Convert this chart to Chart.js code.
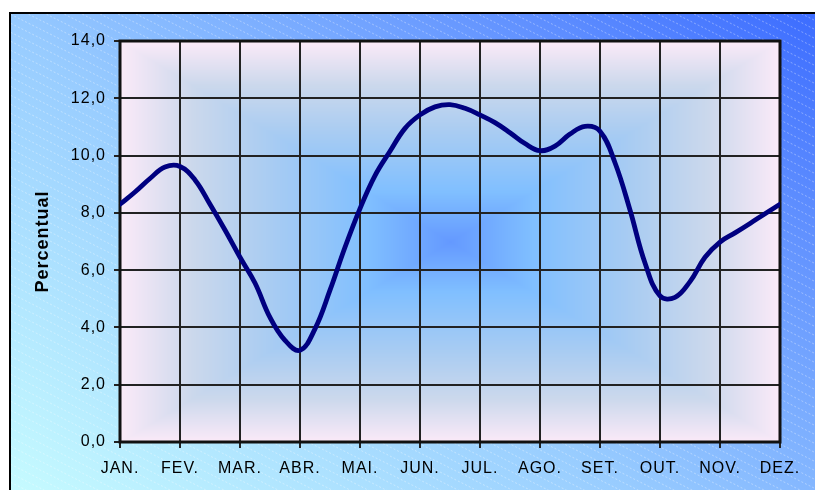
<!DOCTYPE html>
<html><head><meta charset="utf-8">
<script src="https://cdn.jsdelivr.net/npm/chart.js@4.4.1/dist/chart.umd.min.js"></script>
<style>html,body{margin:0;padding:0;background:#fff;overflow:hidden}</style>
</head><body>
<canvas id="c" width="815" height="490"></canvas>
<script>
// ---- data ----
const months = ['JAN.','FEV.','MAR.','ABR.','MAI.','JUN.','JUL.','AGO.','SET.','OUT.','NOV.','DEZ.'];
const yTickValues = [0,2,4,6,8,10,12,14];
// sample positions, in months from JAN. (quarter-month steps)
const positions = [0,0.25,0.5,0.75,1,1.25,1.5,1.75,2,2.25,2.5,2.75,3,3.25,3.5,3.75,4,4.25,4.5,4.75,5,5.25,5.5,5.75,6,6.25,6.5,6.75,7,7.25,7.5,7.75,8,8.25,8.5,8.75,9,9.25,9.5,9.75,10,10.25,10.5,10.75,11];
const percentual = [8.3,8.73,9.2,9.6,9.62,9.15,8.3,7.4,6.45,5.55,4.35,3.55,3.2,3.95,5.3,6.8,8.15,9.3,10.15,10.95,11.42,11.7,11.78,11.65,11.42,11.15,10.8,10.42,10.17,10.33,10.75,11.02,10.85,9.75,8.1,6.25,5.1,5.05,5.6,6.45,6.98,7.3,7.63,7.97,8.3];

function hex(c){return [parseInt(c.slice(1,3),16),parseInt(c.slice(3,5),16),parseInt(c.slice(5,7),16)];}
const plotStops = [[0,'#6499ff'],[0.25,'#80bfff'],[0.55,'#a9ccf2'],[0.78,'#cbd8ec'],[1,'#fbeaf8']].map(s=>[s[0],hex(s[1])]);
function stopColor(t){
  for(let i=1;i<plotStops.length;i++){
    if(t<=plotStops[i][0]){
      const a=plotStops[i-1],b=plotStops[i];const f=(t-a[0])/(b[0]-a[0]);
      return [0,1,2].map(k=>Math.round(a[1][k]+(b[1][k]-a[1][k])*f));
    }
  }
  return plotStops[plotStops.length-1][1];
}

const bgPlugin = {
  id:'bg',
  beforeDraw(chart){
    const ctx=chart.ctx, W=chart.width, H=chart.height, ca=chart.chartArea;
    ctx.save();
    ctx.fillStyle='#fff';ctx.fillRect(0,0,W,H);
    // outer chart box
    const g=ctx.createLinearGradient(10,H,560,-250);
    g.addColorStop(0,'#c6fbff');g.addColorStop(0.4,'#98ccff');g.addColorStop(0.75,'#5f8fff');g.addColorStop(1,'#3060ff');
    ctx.fillStyle=g;ctx.fillRect(10,13,W,H);
    // faint hatch
    ctx.beginPath();ctx.rect(10,13,W,H);ctx.clip();
    ctx.strokeStyle='rgba(255,255,255,0.35)';ctx.lineWidth=1;ctx.setLineDash([2,2]);
    for(let c=-900;c<H+10;c+=9){ctx.beginPath();ctx.moveTo(0,c);ctx.lineTo(W,c+W*0.5);ctx.stroke();}
    ctx.restore();
    ctx.save();
    ctx.strokeStyle='#000';ctx.lineWidth=2;ctx.strokeRect(10,13,W+10,H+10);
    // plot area rectangular gradient
    const x0=Math.round(ca.left),y0=Math.round(ca.top),w=Math.round(ca.right-ca.left),h=Math.round(ca.bottom-ca.top);
    const off=document.createElement('canvas');off.width=w;off.height=h;
    const octx=off.getContext('2d');const img=octx.createImageData(w,h);
    const cx=w/2,cy=h/2;
    for(let y=0;y<h;y++){for(let x=0;x<w;x++){
      const t=Math.min(1,Math.max(Math.abs(x-cx)/cx,Math.abs(y-cy)/cy));
      const col=stopColor(t);const i=(y*w+x)*4;
      img.data[i]=col[0];img.data[i+1]=col[1];img.data[i+2]=col[2];img.data[i+3]=255;
    }}
    octx.putImageData(img,0,0);
    ctx.drawImage(off,x0,y0);
    ctx.restore();
    ctx.letterSpacing='1px';
  },
  beforeDatasetsDraw(chart){
    const ctx=chart.ctx, ca=chart.chartArea;
    ctx.save();ctx.strokeStyle='#111';ctx.lineWidth=3;
    ctx.strokeRect(ca.left,ca.top,ca.right-ca.left,ca.bottom-ca.top);
    ctx.restore();
  }
};

const font = 'Liberation Sans, Arial, sans-serif';
new Chart(document.getElementById('c'),{
  type:'line',
  data:{datasets:[{
    data: positions.map((x,i)=>({x:x,y:percentual[i]})),
    borderColor:'#000080',borderWidth:4.8,pointRadius:0,tension:0.4,fill:false,
    borderCapStyle:'round',borderJoinStyle:'round'
  }]},
  options:{
    responsive:false,animation:false,devicePixelRatio:1,
    layout:{padding:{left:0,top:41,right:35,bottom:0}},
    plugins:{legend:{display:false},tooltip:{enabled:false}},
    scales:{
      x:{type:'linear',min:0,max:11,
        afterBuildTicks:s=>{s.ticks=months.map((m,i)=>({value:i}));},
        ticks:{callback:(v)=>months[v],color:'#000',font:{family:font,size:16},padding:11,maxRotation:0,autoSkip:false},
        grid:{color:'#222',lineWidth:2,tickLength:6,drawTicks:true},
        border:{color:'#111',width:2},
        afterFit:s=>{s.height=48;}
      },
      y:{min:0,max:14,
        afterBuildTicks:s=>{s.ticks=yTickValues.map(v=>({value:v}));},
        ticks:{callback:v=>v.toFixed(1).replace('.',','),color:'#000',font:{family:font,size:16},padding:8},
        grid:{color:'#222',lineWidth:2,tickLength:6,drawTicks:true},
        border:{color:'#111',width:2},
        title:{display:true,text:'Percentual',color:'#000',font:{family:font,size:18,weight:'bold'},padding:{top:32,bottom:0}},
        afterFit:s=>{s.width=120;}
      }
    }
  },
  plugins:[bgPlugin]
});
</script>
</body></html>
